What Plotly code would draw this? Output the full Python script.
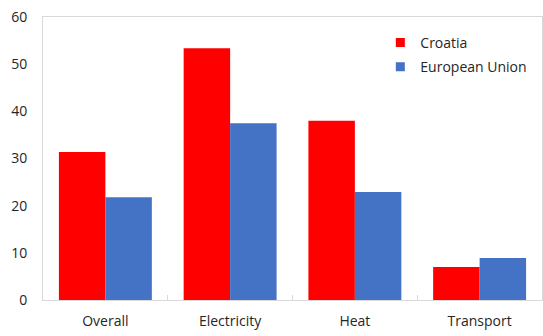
import plotly.graph_objects as go

categories = ["Overall", "Electricity", "Heat", "Transport"]
croatia = [31.4, 53.4, 38.0, 7.0]
eu = [21.8, 37.5, 22.9, 8.9]
y_ticks = [0, 10, 20, 30, 40, 50, 60]

RED = "#FF0000"
BLUE = "#4472C4"
GRID = "#D9D9D9"
TEXT = "#262626"
FONT = "Open Sans, Noto Sans, sans-serif"

fig = go.Figure()
fig.add_trace(go.Bar(x=categories, y=croatia, name="Croatia",
                     marker=dict(color=RED, line=dict(width=0)), showlegend=False))
fig.add_trace(go.Bar(x=categories, y=eu, name="European Union",
                     marker=dict(color=BLUE, line=dict(width=0)), showlegend=False))

# small square legend keys
for name, col in [("Croatia", RED), ("European Union", BLUE)]:
    fig.add_trace(go.Scatter(x=[None], y=[None], mode="markers", name=name,
                             legendgroup=name,
                             marker=dict(symbol="square", size=9, color=col)))

fig.update_layout(
    width=543, height=336,
    margin=dict(l=43, r=1, t=17, b=36),
    paper_bgcolor="white", plot_bgcolor="white",
    barmode="group", bargap=0.255, bargroupgap=0,
    font=dict(family=FONT, size=14, color=TEXT),
    legend=dict(x=0.676, y=0.965, xanchor="left", yanchor="top",
                bgcolor="rgba(0,0,0,0)", itemwidth=30,
                font=dict(size=14, color=TEXT), tracegroupgap=3),
    xaxis=dict(showline=True, linecolor=GRID, linewidth=1, mirror=True,
               ticks="inside", tickson="boundaries", ticklen=5, tickcolor=GRID,
               showgrid=False, ticklabelstandoff=8,
               tickfont=dict(size=14, color=TEXT)),
    yaxis=dict(range=[0, 60], tickvals=y_ticks, showline=True, linecolor=GRID,
               linewidth=1, mirror=True, showgrid=False, ticks="",
               ticklabelstandoff=12, zeroline=False,
               tickfont=dict(size=14, color=TEXT)),
)

fig.write_html("out.html")
